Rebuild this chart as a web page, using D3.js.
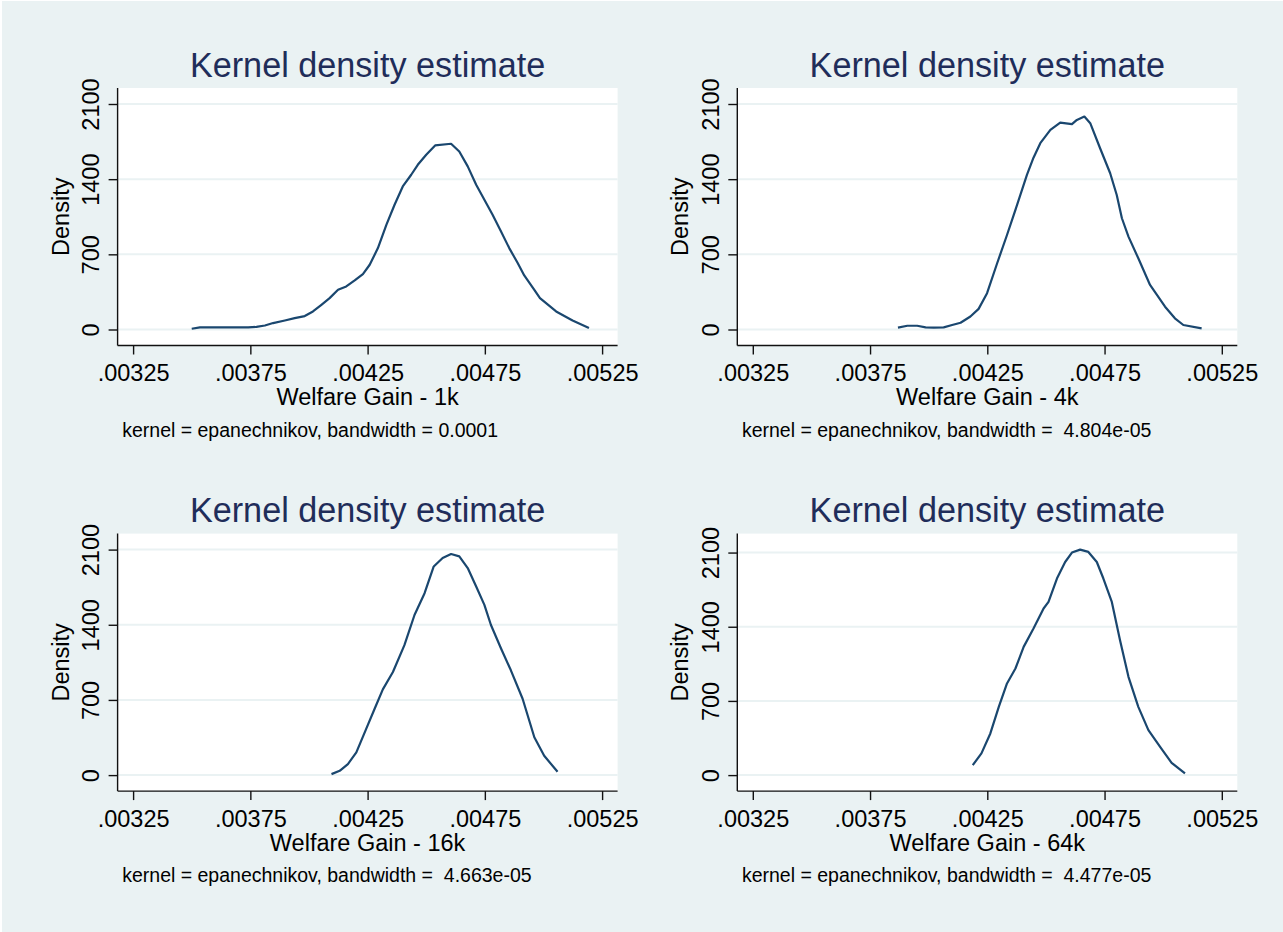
<!DOCTYPE html>
<html>
<head>
<meta charset="utf-8">
<script src="https://cdn.jsdelivr.net/npm/d3@7"></script>
<style>
  body { margin: 0; background: #ffffff; }
  text { font-family: "Liberation Sans", Arial, Helvetica, sans-serif; }
</style>
</head>
<body>
<svg id="chart"></svg>
<script>
// values
const gain1k = [0.003500,0.003535,0.003741,0.003776,0.003812,0.003847,0.003897,0.003939,0.003982,0.004017,
  0.004053,0.004088,0.004124,0.004159,0.004195,0.004230,0.004259,0.004294,0.004330,0.004365,
  0.004400,0.004436,0.004464,0.004500,0.004538,0.004606,0.004641,0.004677,0.004713,0.004748,
  0.004783,0.004819,0.004854,0.004890,0.004918,0.004961,0.004985,0.005054,0.005124,0.005194];
const dens1k = [7,19,19,25,37,60,84,106,125,168,
  230,292,370,401,457,516,603,758,975,1162,
  1332,1441,1534,1628,1714,1730,1658,1519,1348,1208,
  1069,913,758,619,503,370,292,168,84,13];

const gain4k = [0.003869,0.003909,0.003951,0.003987,0.004022,0.004064,0.004100,0.004136,0.004178,0.004213,
  0.004249,0.004292,0.004334,0.004377,0.004419,0.004447,0.004476,0.004519,0.004561,0.004611,0.004632,
  0.004664,0.004689,0.004731,0.004774,0.004802,0.004824,0.004852,0.004894,0.004944,0.005008,
  0.005050,0.005086,0.005164];
const dens4k = [17,35,35,20,17,20,42,63,121,192,
  338,617,880,1160,1440,1600,1735,1859,1927,1912,1952,
  1983,1921,1688,1455,1253,1036,865,663,415,212,
  104,42,11];

const gain16k = [0.004096,0.004131,0.004166,0.004202,0.004244,0.004280,0.004315,0.004358,0.004407,0.004450,
  0.004493,0.004532,0.004570,0.004606,0.004641,0.004677,0.004713,0.004748,0.004776,0.004819,
  0.004861,0.004911,0.004961,0.005003,0.005060];
const dens16k = [9,40,103,211,430,618,798,960,1210,1491,
  1694,1943,2022,2059,2037,1928,1756,1585,1398,1179,
  976,711,352,180,31];

const gain64k = [0.004188,0.004225,0.004263,0.004299,0.004334,0.004370,0.004405,0.004447,0.004490,0.004511,
  0.004547,0.004582,0.004611,0.004646,0.004681,0.004717,0.004745,0.004781,0.004816,0.004852,
  0.004894,0.004937,0.004987,0.005036,0.005093];
const dens64k = [94,205,393,644,865,1006,1210,1383,1572,1634,
  1855,2011,2100,2128,2106,2011,1855,1634,1273,927,
  644,424,267,116,16];

const xTicks = [0.00325, 0.00375, 0.00425, 0.00475, 0.00525];
const yTicks = [0, 700, 1400, 2100];
const titles = ["Kernel density estimate", "Kernel density estimate", "Kernel density estimate", "Kernel density estimate"];
const xTitles = ["Welfare Gain - 1k", "Welfare Gain - 4k", "Welfare Gain - 16k", "Welfare Gain - 64k"];
const notes = [
  "kernel = epanechnikov, bandwidth = 0.0001",
  "kernel = epanechnikov, bandwidth =  4.804e-05",
  "kernel = epanechnikov, bandwidth =  4.663e-05",
  "kernel = epanechnikov, bandwidth =  4.477e-05"
];

const series = [
  {x: gain1k, y: dens1k},
  {x: gain4k, y: dens4k},
  {x: gain16k, y: dens16k},
  {x: gain64k, y: dens64k}
];

const width = 1283, height = 932;
const plotW = 500, plotH = 257.5, pad = 15.5;
const origins = [[117.6, 88], [737.3, 88], [117.6, 533.6], [737.3, 533.6]];

const bg = '#eaf2f3', lineColor = '#1a476f', titleColor = '#1f2d5a';

const svg = d3.select('#chart')
    .attr('width', width)
    .attr('height', height);

svg.append('rect')
    .attr('x', 2).attr('y', 1)
    .attr('width', width - 2).attr('height', height - 1)
    .attr('fill', bg);

const fmtX = d => d3.format('.5f')(d).replace(/^0\./, '.');

series.forEach((s, i) => {
  const [ox, oy] = origins[i];
  const pts = s.x.map((v, j) => ({x: v, y: s.y[j]}));

  const xScale = d3.scaleLinear()
      .domain([Math.min(xTicks[0], d3.min(s.x)), Math.max(xTicks[xTicks.length - 1], d3.max(s.x))])
      .range([pad, plotW - pad]);
  const yScale = d3.scaleLinear()
      .domain([0, Math.max(yTicks[yTicks.length - 1], d3.max(s.y))])
      .range([plotH - 16, 16]);

  const g = svg.append('g').attr('transform', `translate(${ox},${oy})`);

  // plot region
  g.append('rect')
      .attr('width', plotW).attr('height', plotH)
      .attr('fill', '#ffffff');

  // gridlines
  g.selectAll('.grid')
      .data(yTicks)
    .join('line')
      .attr('class', 'grid')
      .attr('x1', 0).attr('x2', plotW)
      .attr('y1', d => yScale(d)).attr('y2', d => yScale(d))
      .attr('stroke', bg)
      .attr('stroke-width', 2);

  // density line
  const line = d3.line().x(d => xScale(d.x)).y(d => yScale(d.y));
  g.append('path')
      .datum(pts)
      .attr('d', line)
      .attr('fill', 'none')
      .attr('stroke', lineColor)
      .attr('stroke-width', 2.2)
      .attr('stroke-linejoin', 'round');

  // axes
  const xAxis = d3.axisBottom(xScale).tickValues(xTicks).tickSize(9).tickSizeOuter(0).tickFormat(fmtX);
  const yAxis = d3.axisLeft(yScale).tickValues(yTicks).tickSize(9).tickSizeOuter(0).tickFormat(d3.format('d'));

  const xg = g.append('g').attr('transform', `translate(0,${plotH})`).call(xAxis);
  const yg = g.append('g').call(yAxis);
  [xg, yg].forEach(a => {
    a.select('.domain').remove();
    a.selectAll('line').attr('stroke', '#111').attr('stroke-width', 1.4);
    a.selectAll('text').attr('fill', '#000').style('font-size', '23.5px')
        .style('font-family', '"Liberation Sans", Arial, Helvetica, sans-serif');
  });
  xg.selectAll('text').attr('y', 35.5).attr('dy', 0);
  yg.selectAll('text')
      .attr('transform', 'rotate(-90)')
      .attr('x', 0).attr('y', -18.8).attr('dy', 0)
      .attr('text-anchor', 'middle');

  g.append('line').attr('x1', 0).attr('x2', plotW).attr('y1', plotH).attr('y2', plotH)
      .attr('stroke', '#111').attr('stroke-width', 1.4);
  g.append('line').attr('x1', 0).attr('x2', 0).attr('y1', 0).attr('y2', plotH)
      .attr('stroke', '#111').attr('stroke-width', 1.4);

  // titles
  g.append('text')
      .attr('x', plotW / 2).attr('y', -11.3)
      .attr('text-anchor', 'middle')
      .attr('fill', titleColor)
      .style('font-size', '34.2px')
      .text(titles[i]);

  g.append('text')
      .attr('x', plotW / 2).attr('y', plotH + 59.5)
      .attr('text-anchor', 'middle')
      .attr('fill', '#000')
      .style('font-size', '23.5px')
      .text(xTitles[i]);

  g.append('text')
      .attr('transform', `translate(-49,${plotH / 2}) rotate(-90)`)
      .attr('text-anchor', 'middle')
      .attr('fill', '#000')
      .style('font-size', '23.5px')
      .text('Density');

  g.append('text')
      .attr('x', 4.6).attr('y', plotH + 91)
      .attr('fill', '#000')
      .style('font-size', '19.5px')
      .style('white-space', 'pre')
      .text(notes[i]);
});
</script>
</body>
</html>
